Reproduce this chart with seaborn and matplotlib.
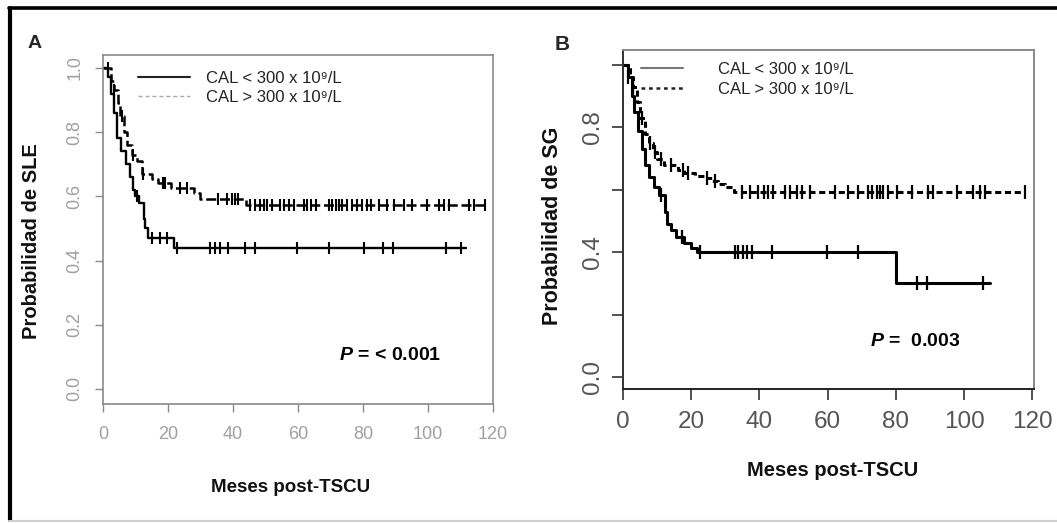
import numpy as np
import seaborn as sns
import matplotlib.pyplot as plt
from matplotlib.lines import Line2D

# Kaplan-Meier steps: step times (months) and survival after each step
# Panel A - SLE
a_low_t = [0, 1.5, 2.5, 3.5, 4.3, 5.5, 7, 8.3, 9.3, 10, 11, 12.5, 13, 14, 22]
a_low_s = [1.0, 0.97, 0.92, 0.86, 0.78, 0.74, 0.70, 0.66, 0.62, 0.60, 0.58, 0.53, 0.50, 0.47, 0.44]
a_low_end = 111.7
a_low_cens = [10.5, 15, 17.6, 19.7, 22.7, 33, 34.5, 36.1, 38.6, 43.8, 46.9, 59.8, 69.4,
              80.2, 86.1, 89.1, 105.5, 110.1]

a_high_t = [0, 2.5, 3.5, 4.5, 5.2, 6.5, 7.5, 9, 10.5, 12, 15, 17, 21, 28, 30, 44]
a_high_s = [1.0, 0.96, 0.93, 0.89, 0.85, 0.80, 0.76, 0.73, 0.71, 0.67, 0.655, 0.64, 0.625,
            0.61, 0.59, 0.573]
a_high_end = 117.5
a_high_cens = [1.5, 3.5, 6, 9.3, 12.4, 18.5, 19.2, 23.8, 25.9, 35.5, 38.2, 39.8, 40.7, 41.6,
               45.3, 46.9, 48.4, 49.5, 50.5, 52, 54.6, 55.6, 57.2, 58.7, 61.8, 62.8, 63.9,
               65.4, 69.5, 70.5, 71.6, 72.6, 73.6, 75.2, 76.7, 78.3, 79.8, 81.3, 82.4, 84.9,
               87.5, 89.5, 92.6, 95.2, 99.8, 103.4, 105, 106.5, 112.7, 114.2, 117.5]

# Panel B - SG
b_low_t = [0, 1.5, 2.5, 3.3, 4.5, 5.5, 6.5, 7.5, 9, 10.5, 12.3, 13, 14, 15.5, 18, 20, 21.7, 80]
b_low_s = [1.0, 0.96, 0.90, 0.85, 0.79, 0.73, 0.68, 0.64, 0.61, 0.585, 0.53, 0.49, 0.47,
           0.45, 0.43, 0.415, 0.40, 0.30]
b_low_end = 107.5
b_low_cens = [1.5, 11.2, 17.3, 22.6, 32.9, 33.8, 35.3, 36.3, 37.8, 43.6, 59.8, 69.0,
              86.2, 89.1, 105.7]

b_high_t = [0, 2, 2.8, 4, 5, 6.5, 7.5, 8.8, 10, 12, 16, 18, 21, 24, 26, 28, 30, 32.5]
b_high_s = [1.0, 0.96, 0.93, 0.88, 0.83, 0.78, 0.75, 0.72, 0.70, 0.68, 0.665, 0.655, 0.645,
            0.637, 0.628, 0.618, 0.61, 0.594]
b_high_end = 117.9
b_high_cens = [2.9, 5.5, 8, 9.5, 11, 14, 17.5, 19, 24.5, 27, 34.8, 37.3, 39.7, 41.2, 42.6,
               44.1, 47.5, 49.0, 51.0, 52.4, 54.9, 62.2, 66.1, 69.0, 71.9, 72.9, 74.4, 75.4,
               76.3, 77.8, 80.3, 84.7, 89.5, 91.0, 97.8, 102.7, 104.7, 106.2, 117.9]

legend_labels = ['CAL < 300 x 10⁹/L', 'CAL > 300 x 10⁹/L']
x_ticks = [0, 20, 40, 60, 80, 100, 120]
y_ticks = [0.0, 0.2, 0.4, 0.6, 0.8, 1.0]

sns.set_style('ticks')
plt.rcParams['font.family'] = ['Liberation Sans', 'DejaVu Sans']
plt.rcParams['mathtext.fontset'] = 'custom'
plt.rcParams['mathtext.it'] = 'Liberation Sans:italic:bold'
plt.rcParams['mathtext.rm'] = 'Liberation Sans:bold'
NARROW = ['Liberation Sans Narrow', 'Liberation Sans', 'DejaVu Sans']


def km_curve(ax, t, s, end, cens, lw, ls, tick_s, tick_w):
    xs = list(t) + [end]
    ys = list(s) + [s[-1]]
    sns.lineplot(x=xs, y=ys, ax=ax, drawstyle='steps-post', estimator=None, sort=False,
                 color='black', lw=lw, linestyle=ls, legend=False)
    idx = np.searchsorted(t, cens, side='right') - 1
    cy = np.asarray(s)[idx]
    sns.scatterplot(x=cens, y=cy, ax=ax, marker='|', s=tick_s, color='black',
                    linewidth=tick_w, legend=False)


fig = plt.figure(figsize=(10.57, 5.23), dpi=100)
axA = fig.add_axes([0.0974, 0.2275, 0.369, 0.6673])
axB = fig.add_axes([0.5894, 0.2562, 0.3888, 0.6482])

# ---- panel A
km_curve(axA, a_low_t, a_low_s, a_low_end, a_low_cens, 1.7, '-', 80, 1.5)
km_curve(axA, a_high_t, a_high_s, a_high_end, a_high_cens, 1.8, (0, (4, 1.5)), 80, 1.5)
axA.set_xlim(0, 120)
axA.set_ylim(-0.047, 1.04)
axA.set_xticks(x_ticks)
axA.set_yticks(y_ticks)
axA.set_yticklabels([f'{v:.1f}' for v in y_ticks], rotation=90, va='center')
axA.tick_params(length=6, width=1, color='#8a8a8a', labelcolor='#a0a0a0', labelsize=13)
axA.tick_params(axis='x', pad=10)
axA.tick_params(axis='y', pad=8)
for lab in axA.get_xticklabels() + axA.get_yticklabels():
    lab.set_family(NARROW)
for sp in axA.spines.values():
    sp.set_color('#8a8a8a')
    sp.set_linewidth(1.2)
axA.set_xlabel('Meses post-TSCU', fontsize=13.5, fontweight='bold', color='#111')
axA.set_ylabel('Probabilidad de SLE', fontsize=14.5, fontweight='bold', color='#111')
axA.xaxis.set_label_coords(0.48, -0.215)
axA.yaxis.set_label_coords(-0.159, 0.467)
hA = [Line2D([], [], color='#222', lw=1.5),
      Line2D([], [], color='#aaa', lw=1.0, linestyle=(0, (3, 2)))]
legA = axA.legend(hA, legend_labels, loc='upper left', bbox_to_anchor=(0.09, 0.955),
                  frameon=False, borderpad=0, borderaxespad=0, handlelength=3.1,
                  handletextpad=1.0, labelspacing=0.25,
                  prop={'family': NARROW, 'size': 12})
for txt in legA.get_texts():
    txt.set_color('#222')
axA.text(0.605, 0.14, r'$\mathit{P}$ = < 0.001', transform=axA.transAxes, fontsize=14,
         ha='left', va='center', color='black', fontweight='bold')

# ---- panel B
km_curve(axB, b_low_t, b_low_s, b_low_end, b_low_cens, 2.2, '-', 90, 1.6)
km_curve(axB, b_high_t, b_high_s, b_high_end, b_high_cens, 2.2, (0, (2, 1.2)), 90, 1.6)
axB.set_xlim(0, 120.5)
axB.set_ylim(-0.038, 1.048)
axB.set_xticks(x_ticks)
axB.set_yticks(y_ticks)
axB.set_yticklabels(['0.0', '', '0.4', '', '0.8', ''], rotation=90, va='center')
axB.tick_params(length=8, width=1.2, color='#333', labelcolor='#555', labelsize=17.5)
axB.tick_params(axis='x', pad=8)
axB.tick_params(axis='y', pad=6)
for lab in axB.get_xticklabels() + axB.get_yticklabels():
    lab.set_family(NARROW)
axB.spines['left'].set_color('#333')
axB.spines['bottom'].set_color('#222')
axB.spines['right'].set_color('#888')
axB.spines['top'].set_color('#888')
for sp in axB.spines.values():
    sp.set_linewidth(1.4)
axB.set_xlabel('Meses post-TSCU', fontsize=14.5, fontweight='bold', color='#111')
axB.set_ylabel('Probabilidad de SG', fontsize=15.5, fontweight='bold', color='#111')
axB.xaxis.set_label_coords(0.511, -0.212)
axB.yaxis.set_label_coords(-0.146, 0.481)
hB = [Line2D([], [], color='#777', lw=1.5),
      Line2D([], [], color='#222', lw=1.8, linestyle=(0, (1.5, 1.5)))]
legB = axB.legend(hB, legend_labels, loc='upper left', bbox_to_anchor=(0.045, 0.965),
                  frameon=False, borderpad=0, borderaxespad=0, handlelength=2.5,
                  handletextpad=2.1, labelspacing=0.3,
                  prop={'family': NARROW, 'size': 12})
for txt in legB.get_texts():
    txt.set_color('#222')
axB.text(0.601, 0.139, r'$\mathit{P}$ =  0.003', transform=axB.transAxes, fontsize=14,
         ha='left', va='center', color='black', fontweight='bold')

# panel letters and outer frame
fig.text(35 / 1057, 1 - 44 / 523, 'A', fontsize=14, fontweight='bold', ha='center', va='center')
fig.text(562 / 1057, 1 - 45 / 523, 'B', fontsize=15, fontweight='bold', ha='center', va='center')
fig.add_artist(Line2D([10 / 1057, 10 / 1057], [1 - 7.5 / 523, 1 - 520 / 523],
                      color='black', lw=3.0, transform=fig.transFigure))
fig.add_artist(Line2D([8.5 / 1057, 1.0], [1 - 7.5 / 523, 1 - 7.5 / 523],
                      color='black', lw=2.6, transform=fig.transFigure))
fig.add_artist(Line2D([8.5 / 1057, 1.0], [1 - 521 / 523, 1 - 521 / 523],
                      color='#cfcfcf', lw=1.5, transform=fig.transFigure))

fig.savefig('out.png', dpi=100)
